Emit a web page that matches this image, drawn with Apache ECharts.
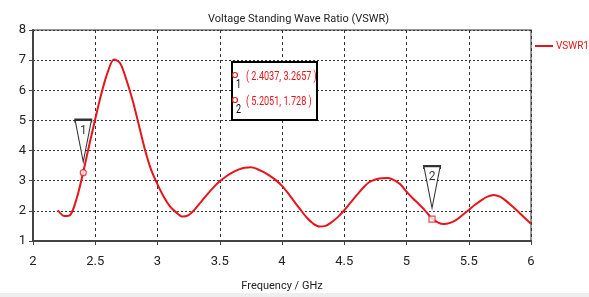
<!DOCTYPE html>
<html>
<head>
<meta charset="utf-8">
<script src="https://cdn.jsdelivr.net/npm/echarts@6/dist/echarts.min.js"></script>
<style>
html, body { margin: 0; padding: 0; background: #fff; }
#main { width: 589px; height: 297px; }
</style>
</head>
<body>
<div id="main"></div>
<script>
var freq = [2.20, 2.25, 2.30, 2.35, 2.40, 2.45, 2.50, 2.55, 2.60, 2.65, 2.70, 2.75, 2.80, 2.85, 2.90, 2.95,
            3.00, 3.05, 3.10, 3.15, 3.20, 3.25, 3.30, 3.35, 3.40, 3.45, 3.50, 3.55, 3.60, 3.65, 3.70, 3.75, 3.80, 3.85, 3.90, 3.95,
            4.00, 4.05, 4.10, 4.15, 4.20, 4.25, 4.30, 4.35, 4.40, 4.45, 4.50, 4.55, 4.60, 4.65, 4.70, 4.75, 4.80, 4.85, 4.90, 4.95,
            5.00, 5.05, 5.10, 5.15, 5.20, 5.25, 5.30, 5.35, 5.40, 5.45, 5.50, 5.55, 5.60, 5.65, 5.70, 5.75, 5.80, 5.85, 5.90, 5.95,
            6.00];
var vswr = [2.02, 1.83, 1.87, 2.40, 3.22, 4.15, 5.05, 5.90, 6.60, 7.02, 6.90, 6.35, 5.67, 4.85, 4.02, 3.35,
            2.88, 2.47, 2.15, 1.95, 1.81, 1.86, 2.05, 2.30, 2.55, 2.78, 2.98, 3.14, 3.27, 3.37, 3.43, 3.45, 3.39, 3.29, 3.17, 3.02,
            2.83, 2.58, 2.30, 2.03, 1.77, 1.58, 1.48, 1.50, 1.63, 1.80, 2.02, 2.27, 2.52, 2.76, 2.95, 3.04, 3.08, 3.09, 3.02, 2.88,
            2.64, 2.42, 2.22, 2.01, 1.76, 1.62, 1.56, 1.60, 1.70, 1.86, 2.03, 2.20, 2.35, 2.47, 2.53, 2.47, 2.33, 2.15, 1.96, 1.76,
            1.57];
var markerNames = ['1', '2'];
var markerFreq = [2.4037, 5.2051];
var markerVswr = [3.2657, 1.728];
var markerSymbols = ['circle', 'rect'];

var font = 'Roboto, sans-serif';
var red = '#e8141b';
var myChart = echarts.init(document.getElementById('main'));

var lineData = freq.map(function (f, i) { return [f, vswr[i]]; });
var markData = markerFreq.map(function (f, i) {
    return { value: [f, markerVswr[i]], symbol: markerSymbols[i] };
});
var flagData = markerFreq.map(function (f, i) {
    return { value: [f, markerVswr[i]], name: markerNames[i] };
});

// marker readout box
var boxItems = [
    { type: 'rect', x: 232, y: 62, shape: { width: 85, height: 58 },
      style: { fill: '#fff', stroke: '#000', lineWidth: 2 }, z: 10 }
];
markerFreq.forEach(function (f, i) {
    var y = 71 + i * 25;
    boxItems.push({ type: 'circle', x: 235, y: y + 4, shape: { r: 2.5 },
        style: { fill: '#fff', stroke: red, lineWidth: 1.2 }, z: 11 });
    boxItems.push({ type: 'text', x: 236, y: y + 8, scaleX: 0.75,
        style: { text: markerNames[i], fill: '#000', font: '12px ' + font, verticalAlign: 'top' }, z: 11 });
    boxItems.push({ type: 'text', x: 246, y: y - 1, scaleX: 0.7,
        style: { text: '( ' + f + ', ' + markerVswr[i] + ' )', fill: red, font: '13px ' + font, verticalAlign: 'top' }, z: 11 });
});
boxItems.push({ type: 'rect', x: 0, y: 293, shape: { width: 589, height: 4 },
    style: { fill: '#eeeeee' } });

option = {
    backgroundColor: '#fff',
    animation: false,
    textStyle: { fontFamily: font },
    title: {
        text: 'Voltage Standing Wave Ratio (VSWR)',
        left: 203,
        top: 9,
        textStyle: { fontSize: 11, fontWeight: 'normal', color: '#222', fontFamily: font }
    },
    legend: {
        data: ['VSWR1'],
        left: 530,
        top: 36,
        icon: 'rect',
        itemWidth: 18,
        itemHeight: 2,
        itemGap: 4,
        textStyle: { color: red, fontSize: 10, fontFamily: font, padding: [0, 0, 0, -2] }
    },
    grid: {
        left: 33, right: 58, top: 30, bottom: 56,
        show: true, borderColor: '#777', borderWidth: 1.5
    },
    xAxis: {
        type: 'value',
        min: 2, max: 6, interval: 0.5,
        name: 'Frequency / GHz',
        nameLocation: 'middle',
        nameGap: 40,
        nameTextStyle: { color: '#222', fontSize: 11, fontFamily: font },
        axisLine: { onZero: false, lineStyle: { color: '#444', width: 2 } },
        axisTick: { show: true, length: 4, lineStyle: { color: '#444' } },
        axisLabel: { color: '#222', fontSize: 13, margin: 14, fontFamily: font },
        splitLine: { show: true, lineStyle: { color: '#333', type: [3, 3], width: 1 } }
    },
    yAxis: {
        type: 'value',
        min: 1, max: 8, interval: 1,
        axisLine: { show: true, lineStyle: { color: '#444', width: 2 } },
        axisTick: { show: true, length: 4, lineStyle: { color: '#444' } },
        axisLabel: { color: '#222', fontSize: 13, margin: 7, fontFamily: font },
        splitLine: { show: true, lineStyle: { color: '#333', type: [2, 2], width: 1 } }
    },
    graphic: boxItems,
    series: [
        {
            name: 'VSWR1',
            type: 'line',
            data: lineData,
            smooth: 0.3,
            showSymbol: false,
            lineStyle: { color: red, width: 2 },
            itemStyle: { color: red },
            z: 3
        },
        {
            name: 'markers',
            type: 'scatter',
            data: markData,
            symbolSize: 6,
            itemStyle: { color: '#fff', borderColor: red, borderWidth: 1.2 },
            z: 4
        },
        {
            name: 'flags',
            type: 'scatter',
            data: flagData,
            symbol: 'path://M0,0 L20,0 L20,2 L19.3,2 L10,50 L0.7,2 L0,2 Z',
            symbolSize: [17, 42],
            symbolOffset: [0, -32],
            itemStyle: { color: '#fff', borderColor: '#000', borderWidth: 1.5 },
            label: {
                show: true,
                formatter: '{b}',
                position: 'inside',
                offset: [0, -10],
                color: '#000',
                fontSize: 12,
                fontFamily: font
            },
            z: 5
        }
    ]
};
myChart.setOption(option);
</script>
</body>
</html>
